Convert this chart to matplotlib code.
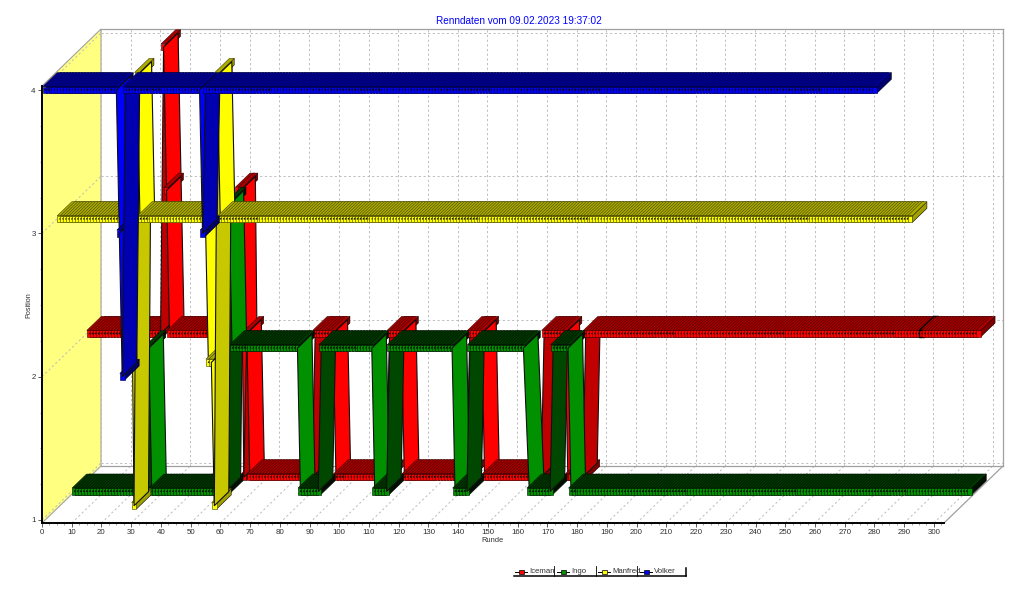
import matplotlib
matplotlib.use("Agg")
import matplotlib.pyplot as plt
from matplotlib.collections import PolyCollection
from matplotlib.lines import Line2D
from matplotlib.patches import Polygon, Rectangle
from matplotlib.ticker import MultipleLocator

plt.rcParams['font.family'] = ['Liberation Sans', 'DejaVu Sans']

title = "Renndaten vom 09.02.2023 19:37:02"
x_label = "Runde"
y_label = "Position"
x_ticks = list(range(0, 301, 10))
y_ticks = [1, 2, 3, 4]

# (first lap, last lap, position)
iceman_runs = [(1, 25, 2), (26, 26, 4), (27, 27, 3), (28, 50, 2), (51, 52, 3), (53, 53, 1),
               (54, 54, 2), (55, 76, 1), (77, 83, 2), (84, 101, 1), (102, 106, 2), (107, 128, 1),
               (129, 133, 2), (134, 153, 1), (154, 161, 2), (162, 167, 1), (168, 300, 2)]
ingo_runs = [(1, 25, 1), (26, 26, 2), (27, 52, 1), (53, 53, 3), (54, 76, 2), (77, 83, 1),
             (84, 101, 2), (102, 106, 1), (107, 128, 2), (129, 133, 1), (134, 152, 2),
             (154, 161, 1), (162, 167, 2), (168, 302, 1)]
manfred_runs = [(1, 25, 3), (26, 26, 1), (27, 27, 4), (28, 50, 3), (51, 52, 2), (53, 53, 1),
                (54, 54, 4), (55, 287, 3)]
volker_runs = [(1, 25, 4), (26, 26, 3), (27, 27, 2), (28, 53, 4), (54, 54, 3), (55, 280, 4)]

# name, runs, depth slot, bright, ribbon dark, top face, side colour, hatch edge (back to front)
series = [
    ("Iceman", iceman_runs, 3, "#ff0000", "#c00000", "#a80000", "#800000", "#400000"),
    ("Ingo", ingo_runs, 2, "#009000", "#004800", "#003800", "#001000", "#001000"),
    ("Manfred", manfred_runs, 1, "#ffff00", "#c8c800", "#acac00", "#a0a000", "#404000"),
    ("Volker", volker_runs, 0, "#0000ff", "#0000b0", "#000098", "#000070", "#000040"),
]
legend_order = ["Iceman", "Ingo", "Manfred", "Volker"]

W, H = 1024, 594
fig = plt.figure(figsize=(W / 100, H / 100), dpi=100, facecolor="white")

# front plane of the 3D box, in pixels
L, R, B, T = 42, 944, 523, 86
ax = fig.add_axes([L / W, 1 - B / H, (R - L) / W, (B - T) / H])
PX_X = 2.973                 # pixels per lap
PX_Y = 143.33                # pixels per position
ax.set_xlim(0, (R - L) / PX_X)
ax.set_ylim(1 - 3 / PX_Y, 1 + (520 - T) / PX_Y)
ax.set_facecolor("none")


def P(lap, pos, dx=0.0, dy=0.0):
    """data point shifted by (dx right, dy up) pixels of 3D depth"""
    return (lap + dx / PX_X, pos + dy / PX_Y)


WALL_X, WALL_Y = 59, 57
SLOT_X, SLOT_Y = 14.75, 14.3
DEPTH_X, DEPTH_Y = 14.5, 14
HW, HH = 2.4, 3.3

ymin, ymax = ax.get_ylim()
xmax = ax.get_xlim()[1]
GRAY = "#a0a0a0"
GRID = "#bcbcbc"
GRID_LS = (0, (2.2, 2.6))
kw = dict(clip_on=False)

# left wall
ax.add_patch(Polygon([P(0, ymin), P(0, ymin, WALL_X, WALL_Y), P(0, ymax, WALL_X, WALL_Y), P(0, ymax)],
                     closed=True, fc="#ffff80", ec=GRAY, lw=0.8, zorder=1, **kw))

# back-wall and floor grid
for v in x_ticks:
    a = P(v, ymin, WALL_X, WALL_Y)
    b = P(v, ymax, WALL_X, WALL_Y)
    ax.plot([a[0], b[0]], [a[1], b[1]], color=GRID, lw=0.7, ls=GRID_LS, zorder=1.5, **kw)
    a = P(v, ymin)
    b = P(v, ymin, WALL_X, WALL_Y)
    ax.plot([a[0], b[0]], [a[1], b[1]], color=GRID, lw=0.7, ls=GRID_LS, zorder=1.5, **kw)
for v in y_ticks:
    a = P(0, v, WALL_X, WALL_Y)
    b = P(xmax, v, WALL_X, WALL_Y)
    ax.plot([a[0], b[0]], [a[1], b[1]], color=GRID, lw=0.7, ls=GRID_LS, zorder=1.5, **kw)
    a = P(0, v)
    b = P(0, v, WALL_X, WALL_Y)
    ax.plot([a[0], b[0]], [a[1], b[1]], color=GRID, lw=0.7, ls=GRID_LS, zorder=1.5, **kw)

# box outline
for a, b in [(P(0, ymin, WALL_X, WALL_Y), P(xmax, ymin, WALL_X, WALL_Y)),
             (P(xmax, ymin, WALL_X, WALL_Y), P(xmax, ymax, WALL_X, WALL_Y)),
             (P(0, ymax, WALL_X, WALL_Y), P(xmax, ymax, WALL_X, WALL_Y)),
             (P(xmax, ymin), P(xmax, ymin, WALL_X, WALL_Y))]:
    ax.plot([a[0], b[0]], [a[1], b[1]], color=GRAY, lw=0.9, zorder=1.6, **kw)

# series
for idx, (name, runs, slot, bright, dark, top, side, hatch) in enumerate(series):
    laps, vals = [], []
    for first, last, pos in runs:
        for lap in range(first, last + 1):
            laps.append(lap)
            vals.append(pos)
    ox, oy = slot * SLOT_X, slot * SLOT_Y
    polys, fcs, ecs, lws = [], [], [], []

    def add(poly, fc, ec="#000000", lw=0.6):
        polys.append(poly)
        fcs.append(fc)
        ecs.append(ec)
        lws.append(lw)

    for i, (lap, v) in enumerate(zip(laps, vals)):
        if i > 0:
            pl, pv = laps[i - 1], vals[i - 1]
            col = bright if v < pv else dark
            add([P(pl, pv, ox, oy), P(lap, v, ox, oy),
                 P(lap, v, ox + DEPTH_X, oy + DEPTH_Y), P(pl, pv, ox + DEPTH_X, oy + DEPTH_Y)], col, "#101010", 0.8)
        # pointer box: side, top, front
        broken = name == "Iceman" and lap == 281
        lw_m = 1.0 if broken else 0.4
        ec_m = "#000000" if broken else hatch
        add([P(lap, v, ox + HW, oy - HH), P(lap, v, ox + HW + DEPTH_X, oy - HH + DEPTH_Y),
             P(lap, v, ox + HW + DEPTH_X, oy + HH + DEPTH_Y), P(lap, v, ox + HW, oy + HH)], side, "#000000", 0.4)
        add([P(lap, v, ox - HW, oy + HH), P(lap, v, ox + HW, oy + HH),
             P(lap, v, ox + HW + DEPTH_X, oy + HH + DEPTH_Y), P(lap, v, ox - HW + DEPTH_X, oy + HH + DEPTH_Y)],
            top, ec_m, lw_m)
        add([P(lap, v, ox - HW, oy - HH), P(lap, v, ox + HW, oy - HH),
             P(lap, v, ox + HW, oy + HH), P(lap, v, ox - HW, oy + HH)], bright, ec_m, lw_m)
    ax.add_collection(PolyCollection(polys, facecolors=fcs, edgecolors=ecs, linewidths=lws,
                                     zorder=3 + idx, clip_on=False), autolim=False)

# axes
for s in ("top", "right"):
    ax.spines[s].set_visible(False)
for s in ("left", "bottom"):
    ax.spines[s].set_linewidth(1.4)
    ax.spines[s].set_zorder(2)
ax.set_xticks(x_ticks)
ax.set_yticks(y_ticks)
ax.xaxis.set_minor_locator(MultipleLocator(2.5))
ax.yaxis.set_minor_locator(MultipleLocator(0.25))
ax.tick_params(axis="both", which="major", labelsize=5.7, length=3, width=0.6,
               color="#404040", labelcolor="#303030", pad=1.5)
ax.tick_params(axis="both", which="minor", length=1.5, width=0.4, color="#606060")
ax.set_axisbelow(True)


def fx(x):
    return x / W


def fy(y):
    return 1 - y / H


fig.text(fx(519), fy(21), title, color="#0000ff", fontsize=7.2, ha="center", va="center")
fig.text(fx(492.5), fy(540), x_label, color="#303030", fontsize=5.4, ha="center", va="center")
fig.text(fx(29), fy(305), y_label, color="#303030", fontsize=5.2, ha="center", va="center", rotation=90)

# legend
bright_of = {s[0]: s[3] for s in series}
starts = [515, 557, 598, 640]
for nm, x0 in zip(legend_order, starts):
    fig.add_artist(Line2D([fx(x0), fx(x0 + 12)], [fy(571.5), fy(571.5)], color="#000000", lw=0.7))
    fig.add_artist(Rectangle((fx(x0 + 4), fy(573.5)), 5 / W, 4 / H, transform=fig.transFigure,
                             fc=bright_of[nm], ec="#000000", lw=0.5, zorder=3))
    fig.text(fx(x0 + 14), fy(571.5), nm, fontsize=5.6, color="#303030", ha="left", va="center")
fig.add_artist(Line2D([fx(514), fx(686)], [fy(576), fy(576)], color="#000000", lw=1.1))
fig.add_artist(Line2D([fx(686), fx(686)], [fy(568), fy(576)], color="#000000", lw=1.1))
for xd in (554, 596, 637):
    fig.add_artist(Line2D([fx(xd), fx(xd)], [fy(566), fy(576)], color="#000000", lw=0.6))

fig.savefig("out.png", dpi=100, facecolor="white")
